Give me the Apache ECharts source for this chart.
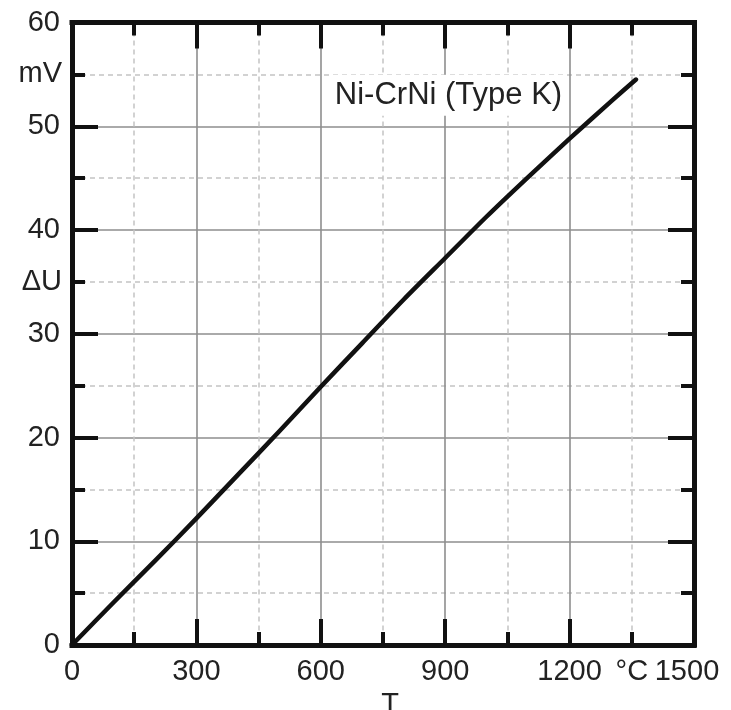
<!DOCTYPE html>
<html>
<head>
<meta charset="utf-8">
<script src="https://cdn.jsdelivr.net/npm/echarts@6/dist/echarts.min.js"></script>
<style>
  html, body { margin: 0; padding: 0; background: #fff; }
  #chart { width: 731px; height: 710px; }
</style>
</head>
<body>
<div id="chart"></div>
<script>
// Thermocouple voltage of a Ni-CrNi (Type K) element versus temperature
const temperatures = [0, 100, 200, 300, 400, 500, 600, 700, 800, 900, 1000, 1100, 1200, 1300, 1360];
const voltages = [0, 4.1, 8.1, 12.2, 16.4, 20.6, 24.9, 29.1, 33.3, 37.3, 41.3, 45.1, 48.8, 52.4, 54.5];

const xTickLabels = ['0', '300', '600', '900', '1200', '1500'];
const yTickLabels = ['0', '10', '20', '30', '40', '50', '60'];
const xUnitLabel = { value: 1350, text: '°C' };
const yUnitLabels = [{ value: 55, text: 'mV' }, { value: 35, text: 'ΔU' }];
const xName = 'T';
const curveName = 'Ni-CrNi (Type K)';

const FONT = 'Liberation Sans, Arial, sans-serif';
const FS = 29;
const INK = '#111';
const TEXT = '#222';

const chart = echarts.init(document.getElementById('chart'), null, { renderer: 'canvas' });

const frameLine = { show: true, onZero: false, lineStyle: { color: INK, width: 5, cap: 'square' } };
const majorTick = { show: true, inside: true, length: 26, lineStyle: { color: INK, width: 4 } };
const minorTick = { show: true, splitNumber: 2, length: 13, lineStyle: { color: INK, width: 4 } };
const solidGrid = { show: true, lineStyle: { color: '#8e8e8e', width: 1.6 } };
const dashedGrid = { show: true, lineStyle: { color: '#c4c4c4', width: 1.5, type: [5, 4] } };
const hidden = { show: false };

const curveData = temperatures.map((t, i) => [t, voltages[i]]);

chart.setOption({
  animation: false,
  backgroundColor: '#fff',
  grid: { left: 72, right: 37, top: 22.5, bottom: 65, containLabel: false, outerBoundsMode: 'none' },
  xAxis: [
    {
      type: 'value', position: 'bottom', min: 0, max: 1500, interval: 300,
      axisLine: frameLine, axisTick: majorTick, minorTick: minorTick,
      splitLine: solidGrid, minorSplitLine: dashedGrid,
      name: xName, nameLocation: 'middle', nameGap: 40,
      nameTextStyle: { fontFamily: FONT, fontSize: FS, color: TEXT, padding: [0, 0, 0, 14] },
      axisLabel: {
        margin: 12, fontFamily: FONT, fontSize: FS, color: TEXT,
        formatter: v => {
          const s = xTickLabels.find(l => Number(l) === v) || '';
          return v === 1500 ? '{r|' + s + '}' : s;
        },
        rich: { r: { fontFamily: FONT, fontSize: FS, color: TEXT, padding: [0, 14, 0, 0] } }
      }
    },
    {
      type: 'value', position: 'bottom', min: 0, max: 1500, interval: 150,
      axisLine: hidden, axisTick: hidden, splitLine: hidden,
      axisLabel: {
        margin: 12, fontFamily: FONT, fontSize: FS, color: TEXT,
        formatter: v => (v === xUnitLabel.value ? xUnitLabel.text : '')
      }
    },
    {
      type: 'value', position: 'top', min: 0, max: 1500, interval: 300,
      axisLine: frameLine, axisTick: majorTick, minorTick: minorTick,
      splitLine: hidden, axisLabel: hidden
    }
  ],
  yAxis: [
    {
      type: 'value', position: 'left', min: 0, max: 60, interval: 10,
      axisLine: frameLine, axisTick: majorTick, minorTick: minorTick,
      splitLine: solidGrid, minorSplitLine: dashedGrid,
      axisLabel: {
        margin: 12, fontFamily: FONT, fontSize: FS, color: TEXT,
        formatter: v => yTickLabels.find(l => Number(l) === v) || ''
      }
    },
    {
      type: 'value', position: 'left', min: 0, max: 60, interval: 5,
      axisLine: hidden, axisTick: hidden, splitLine: hidden,
      axisLabel: {
        margin: 10, fontFamily: FONT, fontSize: FS, color: TEXT,
        formatter: v => {
          const u = yUnitLabels.find(l => l.value === v);
          return u ? u.text : '';
        }
      }
    },
    {
      type: 'value', position: 'right', min: 0, max: 60, interval: 10,
      axisLine: frameLine, axisTick: majorTick, minorTick: minorTick,
      splitLine: hidden, axisLabel: hidden
    }
  ],
  series: [
    {
      name: curveName, type: 'line', xAxisIndex: 0, yAxisIndex: 0,
      data: curveData, showSymbol: false, smooth: 0.25, z: 3,
      lineStyle: { color: INK, width: 4.5, cap: 'round', join: 'round' }
    }
  ]
});

// Curve caption, anchored in data coordinates, on a white box over the grid
const captionAt = chart.convertToPixel({ xAxisIndex: 0, yAxisIndex: 0 }, [908, 53.0]);
chart.setOption({
  graphic: [{
    type: 'text', x: captionAt[0], y: captionAt[1], z: 10,
    style: {
      text: curveName, fontFamily: FONT, fontSize: 31, fill: TEXT,
      align: 'center', verticalAlign: 'middle',
      backgroundColor: '#fff', padding: [5, 4]
    }
  }]
});
</script>
</body>
</html>
